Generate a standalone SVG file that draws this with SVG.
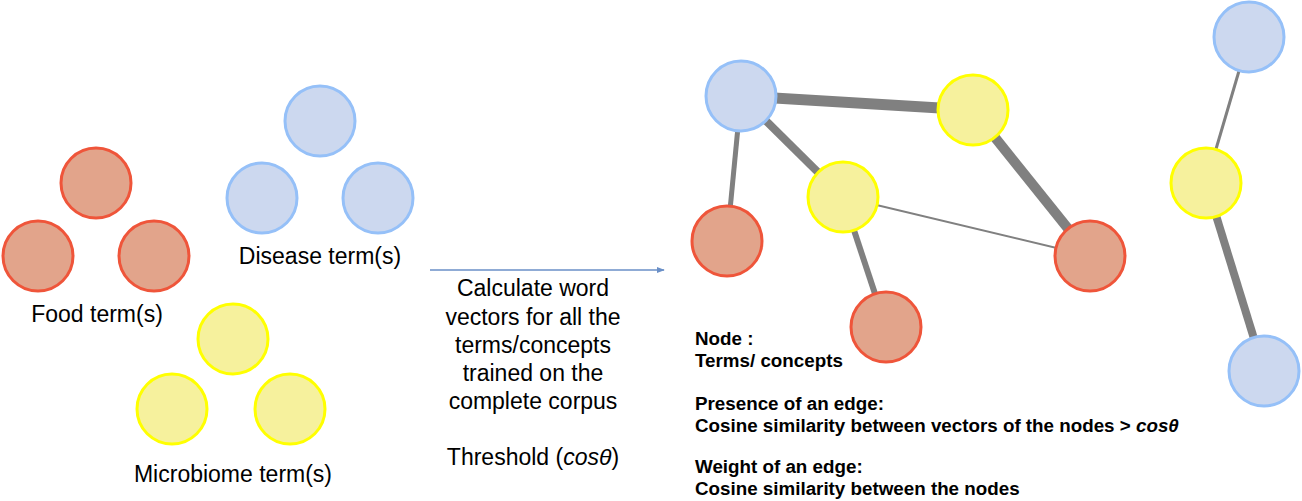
<svg xmlns="http://www.w3.org/2000/svg" width="1302" height="501" viewBox="0 0 1302 501">
<style>
.food{fill:#e2a48b;stroke:#ef553a;stroke-width:3}
.dis{fill:#ccd8ef;stroke:#95c0f8;stroke-width:3}
.mic{fill:#f6f19d;stroke:#ffff00;stroke-width:3}
.e{stroke:#808080;stroke-linecap:butt}
.lbl{font-family:"Liberation Sans",Arial,sans-serif;font-size:23px;fill:#000;text-anchor:middle}
.leg{font-family:"Liberation Sans",Arial,sans-serif;font-size:18.8px;font-weight:bold;fill:#000}
</style>
<defs>
<marker id="ah" viewBox="0 0 10 10" refX="9" refY="5" markerWidth="8" markerHeight="8" markerUnits="userSpaceOnUse" orient="auto">
<path d="M0,1 L10,5 L0,9 z" fill="#6a8fc7"/>
</marker>
</defs>
<g id="left-groups">
<g id="food1"><circle class="food" cx="96" cy="183" r="35"/></g>
<g id="food2"><circle class="food" cx="38" cy="256" r="35"/></g>
<g id="food3"><circle class="food" cx="154" cy="256" r="35"/></g>
<text class="lbl" x="97" y="322">Food term(s)</text>
<g id="dis1"><circle class="dis" cx="320" cy="121" r="35"/></g>
<g id="dis2"><circle class="dis" cx="262" cy="198" r="35"/></g>
<g id="dis3"><circle class="dis" cx="378" cy="198" r="35"/></g>
<text class="lbl" x="320" y="264">Disease term(s)</text>
<g id="mic1"><circle class="mic" cx="233" cy="339" r="35"/></g>
<g id="mic2"><circle class="mic" cx="172" cy="409" r="35"/></g>
<g id="mic3"><circle class="mic" cx="290" cy="409" r="35"/></g>
<text class="lbl" x="233" y="482">Microbiome term(s)</text>
</g>
<g id="process">
<line x1="430" y1="270" x2="664" y2="270" stroke="#6a8fc7" stroke-width="1.3" marker-end="url(#ah)"/>
<text class="lbl" x="533" y="296">Calculate word</text>
<text class="lbl" x="533" y="325">vectors for all the</text>
<text class="lbl" x="533" y="353">terms/concepts</text>
<text class="lbl" x="533" y="381">trained on the</text>
<text class="lbl" x="533" y="409">complete corpus</text>
<text class="lbl" x="533" y="465">Threshold (<tspan font-style="italic">cosθ</tspan>)</text>
</g>
<g id="connectors">
<line class="e" x1="741" y1="96" x2="973" y2="110" stroke-width="11"/>
<line class="e" x1="741" y1="96" x2="727" y2="241" stroke-width="5"/>
<line class="e" x1="741" y1="96" x2="843" y2="197" stroke-width="8"/>
<line class="e" x1="973" y1="110" x2="1090" y2="256" stroke-width="10"/>
<line class="e" x1="843" y1="197" x2="1090" y2="256" stroke-width="2"/>
<line class="e" x1="843" y1="197" x2="886" y2="327" stroke-width="6"/>
<line class="e" x1="1249" y1="37" x2="1206" y2="183" stroke-width="3"/>
<line class="e" x1="1206" y1="183" x2="1264" y2="371" stroke-width="8"/>
</g>
<g id="n-blue1"><circle class="dis" cx="741" cy="96" r="35"/></g>
<g id="n-yel1"><circle class="mic" cx="973" cy="110" r="35"/></g>
<g id="n-yel2"><circle class="mic" cx="843" cy="197" r="35"/></g>
<g id="n-red1"><circle class="food" cx="727" cy="241" r="35"/></g>
<g id="n-red2"><circle class="food" cx="886" cy="327" r="35"/></g>
<g id="n-red3"><circle class="food" cx="1090" cy="256" r="35"/></g>
<g id="n-blue2"><circle class="dis" cx="1249" cy="37" r="35"/></g>
<g id="n-yel3"><circle class="mic" cx="1206" cy="183" r="35"/></g>
<g id="n-blue3"><circle class="dis" cx="1264" cy="371" r="35"/></g>
<g id="legend">
<text class="leg" x="695" y="345">Node :</text>
<text class="leg" x="695" y="367">Terms/ concepts</text>
<text class="leg" x="695" y="410">Presence of an edge:</text>
<text class="leg" x="695" y="432">Cosine similarity between vectors of the nodes &gt; <tspan font-style="italic">cosθ</tspan></text>
<text class="leg" x="695" y="473">Weight of an edge:</text>
<text class="leg" x="695" y="495">Cosine similarity between the nodes</text>
</g>
</svg>
